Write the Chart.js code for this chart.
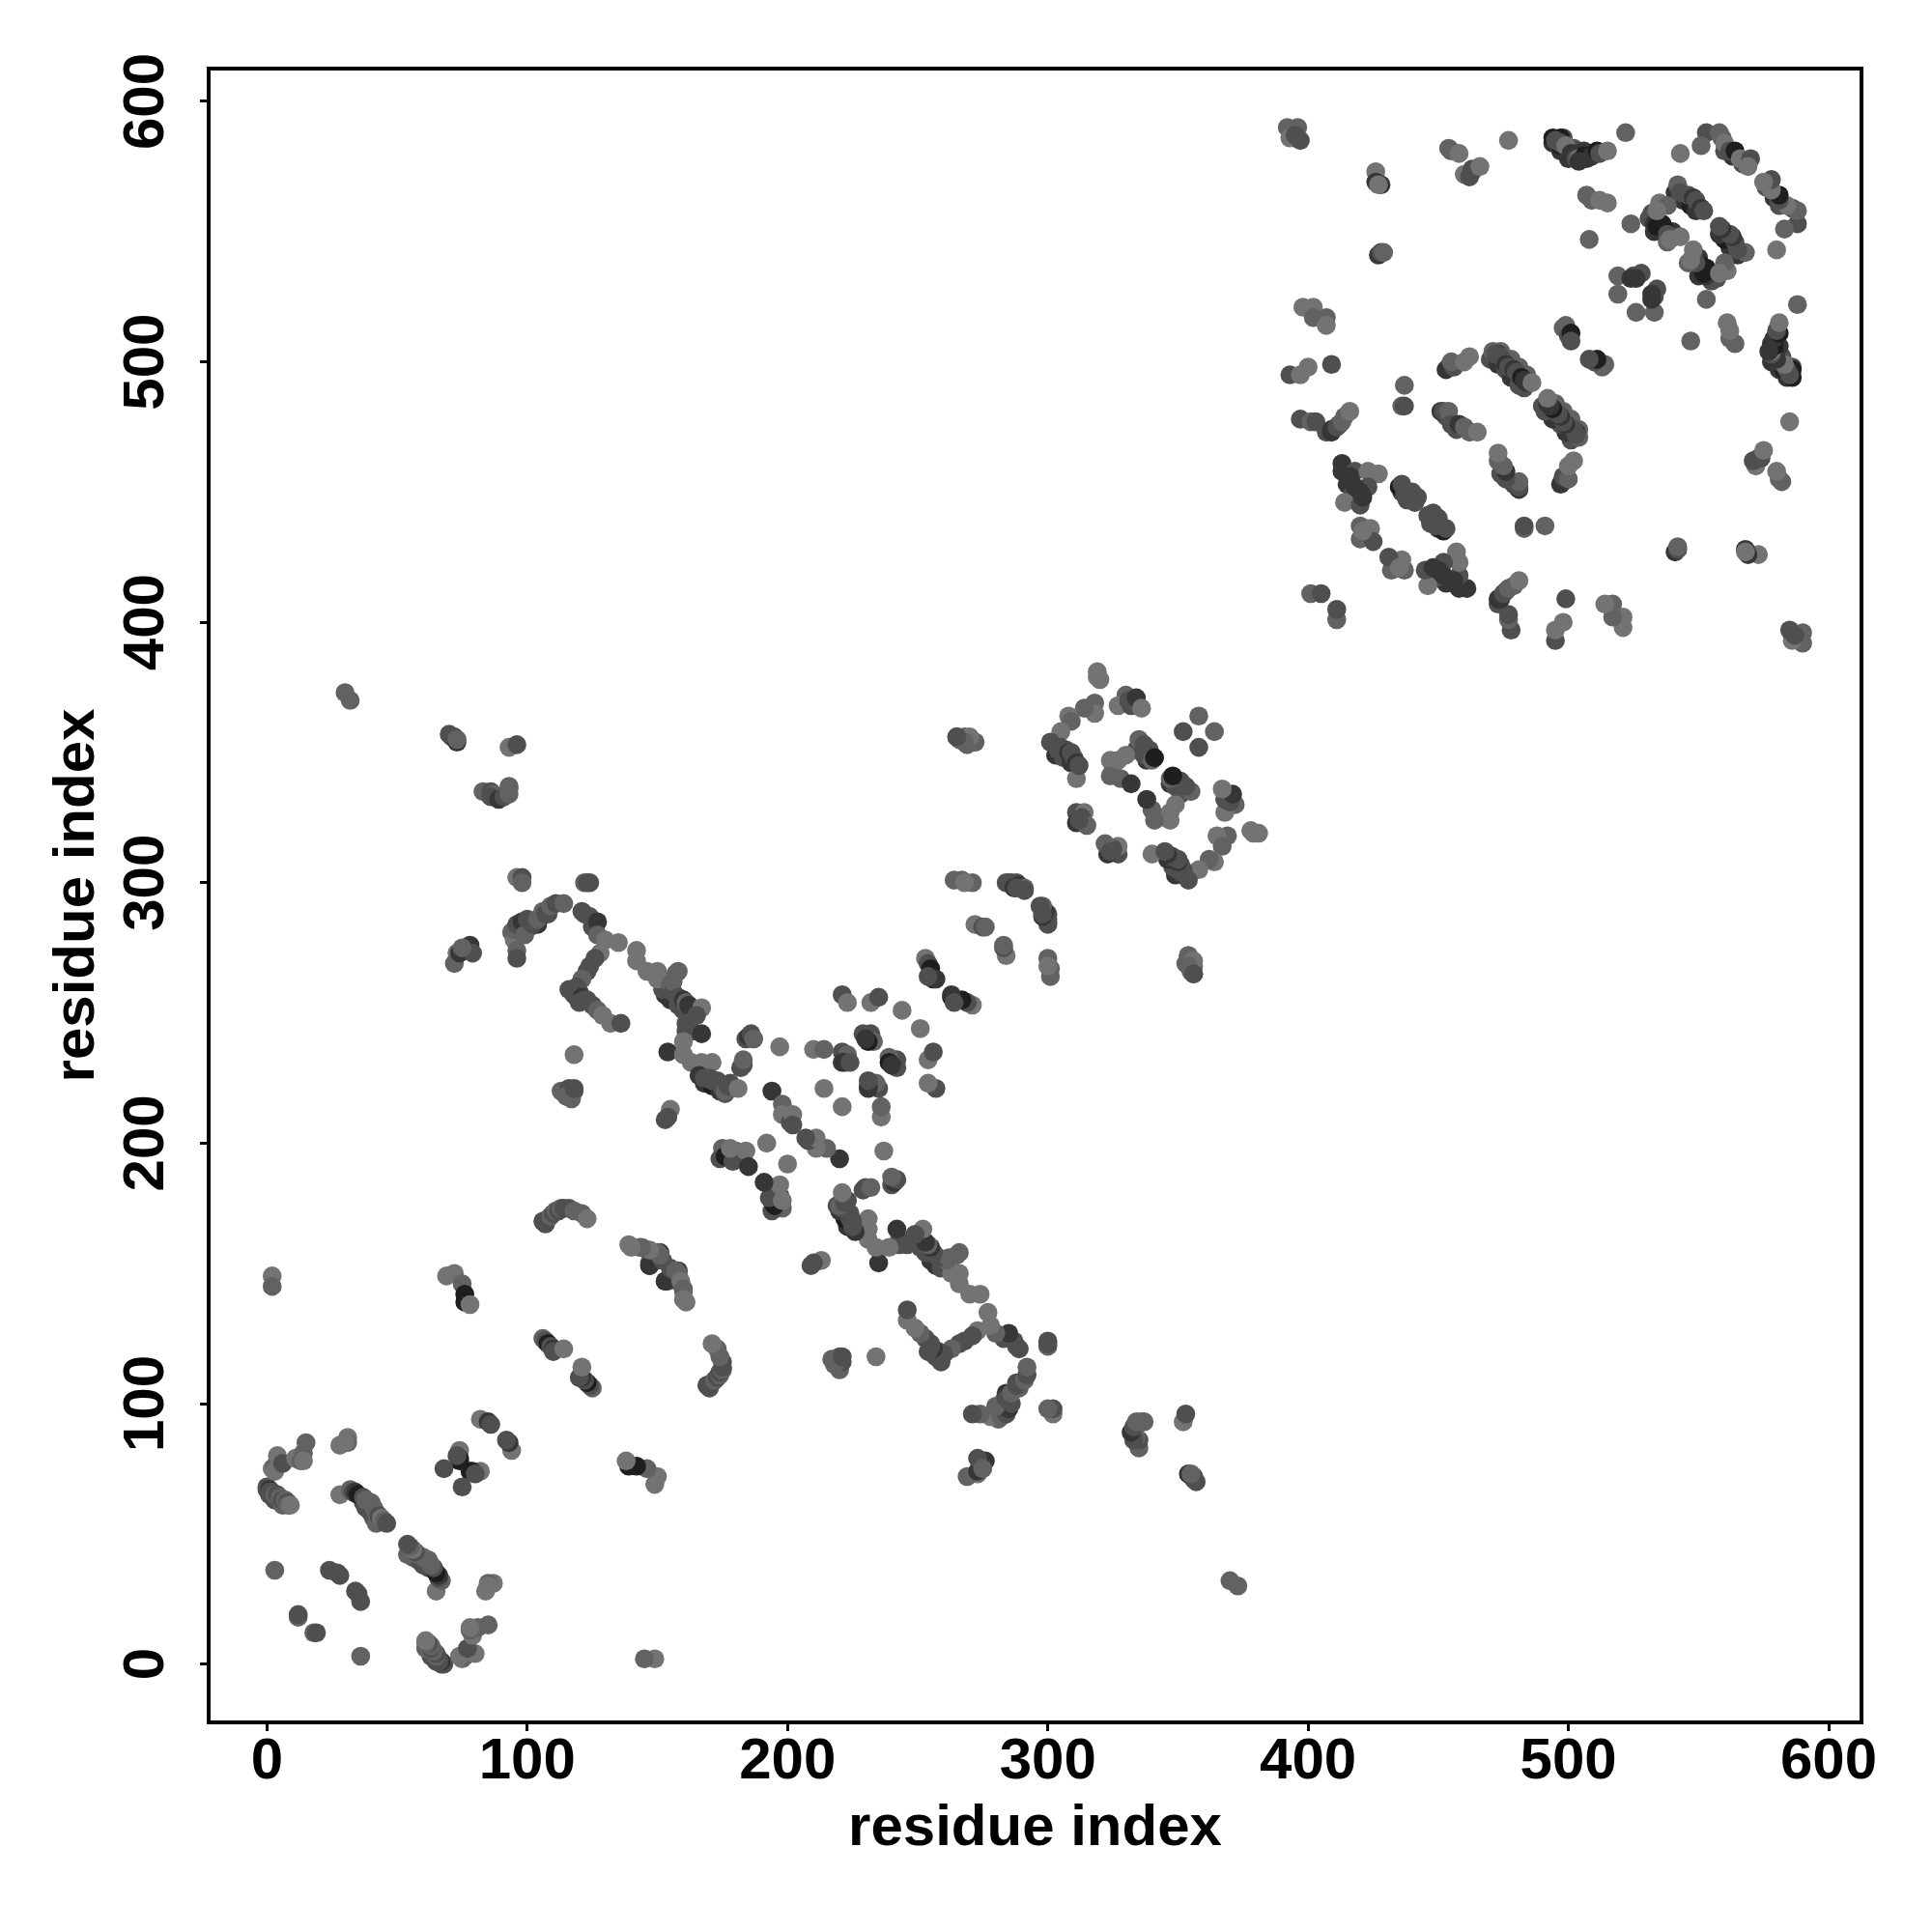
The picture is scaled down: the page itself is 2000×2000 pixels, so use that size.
<!DOCTYPE html>
<html>
<head>
<meta charset="utf-8">
<title>Residue contact map</title>
<script src="https://cdn.jsdelivr.net/npm/chart.js@4/dist/chart.umd.min.js"></script>
<style>
  html, body { margin: 0; padding: 0; background: #fff; }
  canvas { display: block; }
</style>
</head>
<body>
<canvas id="chart" width="2000" height="2000"></canvas>
<script>
// residue pairs (one side of the diagonal), one line per cluster
const contactA = [
  470,473,476,478,481,483,474,478,481,484,
  541,544,547,549,532,536,540,533,
  497,500,494,498,502,506,497,500,503,497,
  559,563,567,560,
  153,155,158,160,152,
  168,171,174,176,
  101,104,108,
  303,306,309,
  1,3,6,
  38,41,40,37,
  436,438,441,453,457,
  334,338,
  3,12,12,24,27,28,
  0,0,1,1,2,3,4,5,6,7,8,8,9,
  2,3,3,4,6,11,13,14,14,15,
  28,32,33,34,35,37,38,40,41,42,42,43,44,45,46,
  28,31,31,30,
  74,74,74,73,68,
  82,85,86,
  2,2,
  69,72,75,76,76,78,
  106,107,108,109,110,110,114,
  106,107,107,108,109,110,111,112,113,114,116,118,121,123,
  139,143,146,148,151,147,147,153,155,157,158,159,160,160,
  118,
  113,116,118,115,117,118,
  155,153,154,
  30,32,
  70,71,72,73,73,
  93,96,
  83,86,87,86,89,91,93,93,93,
  96,98,98,
  122,123,124,
  94,95,96,96,95,96,98,99,100,102,104,106,107,109,111,114,
  73,72,74,78,79,75,
  121,122,124,125,127,127,130,135,142,142,146,150,150,
  128,126,124,123,121,119,118,118,119,120,116,121,122,123,120,125,127,129,132,136,
  158,157,155,156,156,158,160,161,162,163,167,165,161,163,161,167,160,154,160,163,167,171,
  166,168,170,171,173,175,176,177,178,181,
  182,183,183,184,185,186,187,
  197,
  194,198,198,201,202,202,
  210,214,
  221,223,221,222,224,
  221,223,232,235,
  244,
  229,232,233,231,230,
  214,
  175,174,176,178,179,180,181,184,185,178,
  192,
  253,254,255,256,257,254,
  265,268,272,269,266,
  264,267,271,268,
  284,285,286,288,289,291,287,288,291,
  272,275,276,
  354,356,354,356,
  319,320,319,
  330,327,332,331,334,336,
  358,352,
  318,318,314,308,309,305,
  311,301,304,305,307,308,309,310,311,312,
  324,330,327,325,324,328,332,
  335,337,339,337,340,341,
  311,314,311,313,315,312,
  398,402,402,407,407,
  409,
  393,397,400,
  397,401,403,407,409,409,411,412,413,414,416,
  437,436,437,
  413,413,418,423,427,423,415,417,420,418,414,420,421,416,
  435,437,436,440,442,
  420,424,420,425,421,
  401,405,
  453,454,456,455,460,462,
  471,473,472,474,476,477,479,480,482,483,484,486,
  451,452,454,455,458,460,462,465,
  499,498,500,501,501,
  392,396,393,395,397,
  426,426,428,427,
  427,428,429,
  454,455,458,
  460,462,463,463,466,
  477,
  494,495,497,499,501,503,504,506,507,507,504,509,511,512,515,
  522,543,
  507,509,512,515,524,508,
  519,519,525,528,526,524,
  553,551,558,560,562,564,566,570,569,
  542,543,546,548,549,551,552,
  535,538,531,533,534,537,538,538,539,543,534
];
const contactB = [
  501,499,497,494,491,490,504,501,498,495,
  565,562,560,558,557,553,550,550,
  581,578,584,586,582,581,583,581,579,586,
  586,579,576,581,
  257,255,253,251,259,
  223,222,220,219,
  283,284,288,
  349,348,346,
  65,63,61,
  60,56,58,62,
  450,447,446,479,474,
  351,347,
  36,18,19,36,35,34,
  68,67,67,66,66,65,65,64,63,63,62,61,61,
  75,76,74,80,77,79,78,81,78,85,
  65,67,66,66,65,64,63,62,60,58,54,57,56,55,54,
  84,87,85,85,
  82,79,78,80,75,
  94,93,92,
  149,145,
  149,150,146,142,139,138,
  125,124,123,122,121,120,121,
  170,170,169,171,172,173,174,174,175,175,175,174,173,171,
  161,160,159,158,158,153,154,147,152,151,150,147,144,140,
  234,
  220,221,220,218,217,221,
  213,209,210,
  373,370,
  357,356,356,354,355,
  352,353,
  335,335,334,333,332,333,337,336,334,
  302,302,300,
  300,300,300,
  281,278,274,271,282,284,285,280,286,284,286,289,288,291,292,292,
  273,269,273,276,273,275,
  289,288,287,283,285,280,278,277,274,270,266,266,263,
  273,271,268,266,263,260,258,257,256,258,259,256,255,255,254,253,251,249,246,246,
  266,265,261,258,262,256,255,254,253,252,252,249,246,243,243,242,239,235,234,231,231,231,
  226,225,225,224,224,221,220,222,223,221,
  229,230,232,240,241,242,240,
  237,
  220,215,211,208,211,207,
  236,236,
  235,234,231,231,231,
  257,254,254,256,
  251,
  242,242,239,239,240,
  221,
  198,194,195,194,193,197,194,197,191,198,
  200,
  271,269,267,263,263,264,
  356,356,354,353,355,
  301,301,300,300,
  300,300,300,300,299,298,298,298,297,
  284,283,283,
  272,270,268,265,
  379,378,381,
  372,368,368,370,371,367,
  364,358,
  369,365,367,364,362,358,
  340,354,351,352,351,350,350,348,346,345,
  347,349,347,345,341,340,338,
  355,353,351,349,347,348,
  327,327,323,325,322,324,
  521,521,517,517,514,
  499,
  495,495,498,
  478,477,477,473,473,474,475,476,477,479,481,
  491,483,483,
  461,458,458,458,457,452,453,449,450,452,446,445,448,456,
  452,449,453,450,448,
  437,436,432,431,435,
  411,411,
  497,498,498,500,500,502,
  504,503,503,502,499,498,497,496,494,493,492,492,
  481,481,481,476,476,475,473,473,
  514,513,510,511,508,
  590,590,586,587,585,
  573,569,568,568,
  541,542,542,
  582,581,580,
  572,571,573,574,575,
  585,
  586,585,584,583,580,578,578,579,578,579,577,579,581,580,581,
  588,580,
  564,562,562,561,553,547,
  533,526,533,534,532,532,
  588,583,588,584,581,581,578,578,575,
  568,565,564,563,562,559,558,
  561,560,555,553,552,551,549,546,547,548,558
];
const contactScore = [
  3,2,3,2,3,3,4,4,4,4,
  2,2,1,2,3,1,2,2,
  2,2,2,3,3,2,1,2,1,1,
  3,2,3,3,
  2,2,3,3,3,
  2,1,2,3,
  3,2,3,
  2,3,2,
  3,3,4,
  3,4,3,3,
  2,3,3,3,3,
  3,2,
  4,4,3,3,3,3,
  3,3,2,3,3,4,3,4,3,4,3,4,5,
  5,4,5,5,3,5,4,4,5,4,
  5,4,3,2,1,3,4,4,4,4,4,3,5,4,3,
  5,5,4,5,
  5,2,1,3,3,
  5,2,3,
  5,4,
  5,5,4,1,1,5,
  4,3,1,3,2,3,5,
  3,3,3,3,4,3,4,3,4,3,3,4,4,5,
  5,5,4,4,2,2,3,2,3,4,4,5,4,5,
  5,
  4,3,3,4,4,3,
  5,3,3,
  4,4,
  3,3,3,2,4,
  5,3,
  4,3,4,3,2,3,4,4,4,
  5,3,4,
  4,3,3,
  4,5,4,3,4,3,2,4,3,3,4,4,3,4,3,4,
  5,4,2,2,3,4,
  3,3,3,3,2,4,5,5,5,5,5,5,5,
  5,3,3,3,4,3,3,3,3,3,3,2,3,3,3,3,4,5,5,3,
  4,4,4,3,4,3,2,4,2,2,5,3,3,3,3,2,5,2,5,5,5,5,
  2,3,3,3,3,3,4,3,3,5,
  3,3,4,3,2,3,4,
  5,
  2,4,5,3,5,3,
  5,4,
  3,4,2,2,3,
  3,5,5,3,
  5,
  3,3,4,1,2,
  5,
  4,3,1,1,3,3,3,5,2,5,
  5,
  5,3,1,1,2,3,
  3,4,3,4,4,
  4,4,4,5,
  3,3,3,3,2,4,2,3,3,
  5,3,4,
  4,5,4,3,
  5,5,5,
  4,5,3,3,2,5,
  4,3,
  4,5,4,5,4,5,
  5,3,3,3,3,2,3,3,2,3,
  5,5,5,5,4,4,2,
  4,3,3,3,4,1,
  3,5,2,3,4,3,
  5,5,4,4,5,
  3,
  3,5,5,
  3,4,3,3,2,2,3,3,4,4,5,
  4,4,3,
  2,2,3,5,5,3,2,3,2,2,5,3,2,2,
  1,3,3,3,3,
  4,5,4,3,5,
  4,3,
  2,2,3,4,5,5,
  4,2,3,3,2,3,2,3,1,2,2,5,
  2,3,4,3,2,4,4,5,
  4,4,3,1,3,
  4,4,5,3,3,
  5,2,2,5,
  2,3,4,
  4,4,5,
  5,3,3,3,5,
  5,
  1,3,3,5,2,3,5,1,2,1,2,2,1,3,5,
  4,5,
  4,4,5,5,4,4,
  4,4,3,3,2,2,
  3,4,4,5,3,1,5,3,5,
  4,3,3,2,3,2,3,
  5,4,3,2,1,1,3,4,5,5,5
];

const tickValues = [0, 100, 200, 300, 400, 500, 600];
const axisTitle = 'residue index';
const greyLevels = ['#1e1e1e', '#363636', '#4f4f4f', '#626262', '#737373'];

if (contactA.length !== contactB.length || contactA.length !== contactScore.length) {
  throw new Error(`lengths ${contactA.length} ${contactB.length} ${contactScore.length}`);
}

const points = [], colors = [];
contactA.forEach((a, i) => {
  const grey = greyLevels[contactScore[i] - 1];
  points.push({ x: a, y: contactB[i] }, { x: contactB[i], y: a });
  colors.push(grey, grey);
});

// frame round the plot area, like box() in R
const boxOutline = {
  id: 'boxOutline',
  afterDatasetsDraw(chart) {
    const { ctx, chartArea: c } = chart;
    ctx.save();
    ctx.strokeStyle = '#000';
    ctx.lineWidth = 4;
    ctx.strokeRect(c.left, c.top, c.right - c.left, c.bottom - c.top);
    ctx.restore();
  }
};

const tickFont = { family: '"Liberation Sans"', size: 60, weight: 'bold' };
const titleFont = { family: '"Liberation Sans"', size: 60, weight: 'bold' };
const keepTicks = (scale) => { scale.ticks = tickValues.map((value) => ({ value })); };

new Chart(document.getElementById('chart'), {
  type: 'scatter',
  data: {
    datasets: [{
      data: points,
      backgroundColor: colors,
      borderWidth: 0,
      pointRadius: 9.8,
      pointHoverRadius: 9.8
    }]
  },
  options: {
    responsive: false,
    animation: false,
    devicePixelRatio: 1,
    layout: { padding: { top: 71, right: 73, left: 0, bottom: 0 } },
    plugins: { legend: { display: false }, tooltip: { enabled: false } },
    scales: {
      x: {
        type: 'linear',
        min: -22.4,
        max: 612.6,
        afterBuildTicks: keepTicks,
        afterFit: (scale) => { scale.height = 217; },
        border: { display: false },
        grid: { drawOnChartArea: false, drawTicks: true, tickLength: 9, tickWidth: 3, tickColor: '#000' },
        ticks: { color: '#000', font: tickFont, padding: -4, maxRotation: 0, autoSkip: false },
        title: { display: true, text: axisTitle, color: '#000', font: titleFont, padding: { top: 0, bottom: 71 } }
      },
      y: {
        type: 'linear',
        min: -22.4,
        max: 612.6,
        afterBuildTicks: keepTicks,
        afterFit: (scale) => { scale.width = 216; },
        border: { display: false },
        grid: { drawOnChartArea: false, drawTicks: true, tickLength: 9, tickWidth: 3, tickColor: '#000' },
        ticks: { color: '#000', font: tickFont, padding: 4, minRotation: 90, maxRotation: 90, crossAlign: 'center', autoSkip: false },
        title: { display: true, text: axisTitle, color: '#000', font: titleFont, padding: { top: 44, bottom: 0 } }
      }
    }
  },
  plugins: [boxOutline]
});
</script>
</body>
</html>
